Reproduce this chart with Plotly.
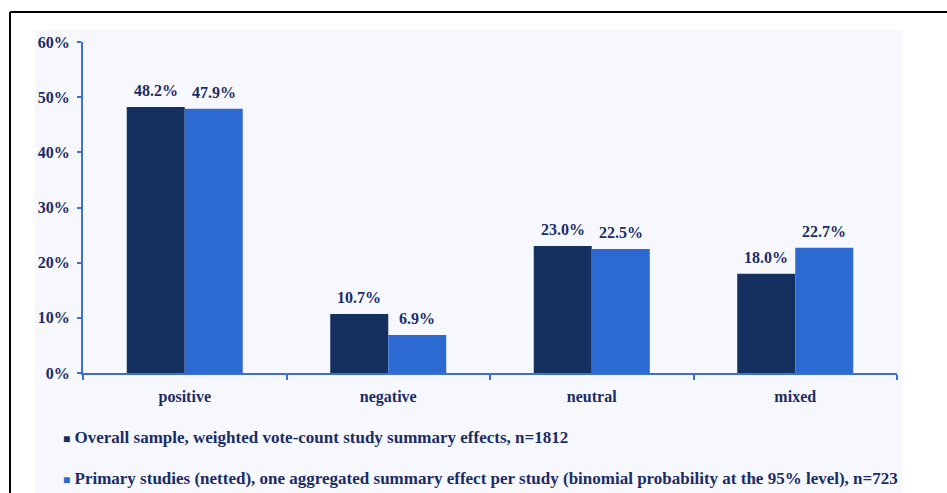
import plotly.graph_objects as go

categories = ["positive", "negative", "neutral", "mixed"]
overall = [48.2, 10.7, 23.0, 18.0]
primary = [47.9, 6.9, 22.5, 22.7]
series_names = [
    "Overall sample, weighted vote-count study summary effects, n=1812",
    "Primary studies (netted), one aggregated summary effect per study (binomial probability at the 95% level), n=723",
]
y_ticks = [0, 10, 20, 30, 40, 50, 60]
y_tick_labels = [f"{v}%" for v in y_ticks]

DARK = "#14305f"
LIGHT = "#2c69d0"
AXIS = "#3a6fd6"
TEXT = "#1b2c66"
FONT = "Liberation Serif"

W, H = 947, 493
L, R, T, B = 83, 50, 42, 120
pw, ph = W - L - R, H - T - B


def px_x(x):
    return (x - L) / pw


def px_y(y):
    return (H - B - y) / ph


fig = go.Figure()
fig.add_trace(go.Bar(x=categories, y=overall, name=series_names[0],
                     marker=dict(color=DARK, line=dict(width=0))))
fig.add_trace(go.Bar(x=categories, y=primary, name=series_names[1],
                     marker=dict(color=LIGHT, line=dict(width=0))))

# value labels above each bar
for vals, shift in ((overall, -29), (primary, 29)):
    for c, v in zip(categories, vals):
        fig.add_annotation(x=c, y=v, xref="x", yref="y", text=f"<b>{v:.1f}%</b>",
                           showarrow=False, xshift=shift, yanchor="bottom", yshift=6,
                           font=dict(family=FONT, size=16, color=TEXT))

# legend lines below the axis
for i, (name, col) in enumerate(zip(series_names, (DARK, LIGHT))):
    fig.add_annotation(x=px_x(61), y=px_y(437 + 41 * i), xref="paper", yref="paper",
                       xanchor="left", yanchor="middle", showarrow=False,
                       text=f"<span style='color:{col};font-size:12px'>■</span><b> {name}</b>",
                       font=dict(family=FONT, size=17, color=TEXT))

shapes = [
    # panel background
    dict(type="rect", xref="paper", yref="paper", layer="below",
         x0=px_x(35), x1=px_x(902), y0=px_y(493), y1=px_y(30),
         fillcolor="#f7f8fd", line=dict(width=0)),
    # frame lines
    dict(type="line", xref="paper", yref="paper", x0=px_x(10), x1=px_x(10),
         y0=px_y(12), y1=px_y(500), line=dict(color="black", width=2)),
    dict(type="line", xref="paper", yref="paper", x0=px_x(10), x1=px_x(960),
         y0=px_y(12), y1=px_y(12), line=dict(color="black", width=2)),
]

fig.update_layout(
    width=W, height=H,
    margin=dict(l=L, r=R, t=T, b=B),
    paper_bgcolor="white", plot_bgcolor="rgba(0,0,0,0)",
    barmode="group", bargap=0.43, bargroupgap=0,
    showlegend=False,
    shapes=shapes,
    font=dict(family=FONT, color=TEXT),
)
fig.update_xaxes(showline=True, linecolor=AXIS, linewidth=2, ticks="outside",
                 tickson="boundaries", ticklen=5, tickcolor=AXIS, tickwidth=2,
                 showgrid=False, ticklabelstandoff=8,
                 tickfont=dict(family=FONT, size=16, color=TEXT, weight="bold"))
fig.update_yaxes(range=[0, 60], tickvals=y_ticks, ticktext=y_tick_labels,
                 showline=True, linecolor=AXIS, linewidth=2, ticks="outside",
                 ticklen=4, tickcolor=AXIS, tickwidth=2, showgrid=False,
                 zeroline=False, ticklabelstandoff=4,
                 tickfont=dict(family=FONT, size=16, color=TEXT, weight="bold"))

fig.write_html("out.html")
